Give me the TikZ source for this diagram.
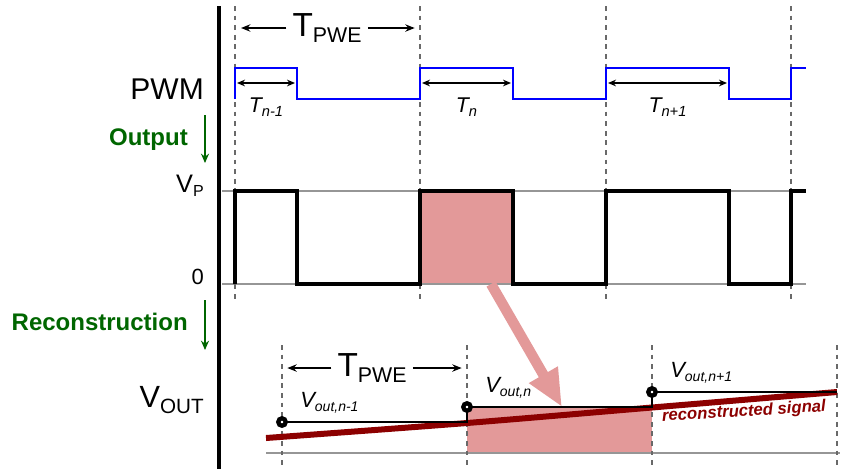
\documentclass[tikz,border=0pt]{standalone}
\usepackage{fontspec}
\setmainfont{Liberation Sans}
\usetikzlibrary{arrows.meta,calc}
\definecolor{guidegray}{RGB}{105,105,105}
\definecolor{levelgray}{RGB}{150,150,150}
\definecolor{blockpink}{RGB}{227,153,153}
\definecolor{recred}{RGB}{140,0,0}
\definecolor{flowgreen}{RGB}{0,102,0}
\newcommand{\lowtext}[3]{\raisebox{-#1}{\fontsize{#2}{#2}\selectfont #3}}
\begin{document}
\begin{tikzpicture}[x=0.75pt, y=-0.75pt,
    guide/.style={draw=guidegray, line width=1.3pt, dash pattern=on 3.6pt off 3.6pt},
    level/.style={draw=levelgray, line width=1pt},
    axisline/.style={line width=3.2pt},
    pwmline/.style={draw=blue, line width=1.9pt},
    outwave/.style={line width=3.4pt, line join=miter},
    recline/.style={draw=recred, line width=4.5pt},
    holdline/.style={line width=1.8pt},
    holdpt/.style={circle, draw, fill=white, line width=3.2pt, inner sep=0pt, minimum size=5.6pt},
    dimarrow/.style={-{Stealth[length=7pt, width=5.5pt]}, line width=1.3pt},
    span/.style={{Stealth[length=6pt, width=5pt]}-{Stealth[length=6pt, width=5pt]}, line width=1.5pt, shorten <=1.5pt, shorten >=1.5pt},
    flow/.style={-{Stealth[length=7pt, width=6pt]}, draw=flowgreen, line width=1.8pt},
    bigarrow/.style={-{Triangle[length=28pt, width=23pt]}, draw=blockpink, line width=7.8pt},
    sidelabel/.style={inner sep=0pt, anchor=base east},
    steplabel/.style={text=flowgreen, font=\bfseries\fontsize{18pt}{18pt}\selectfont, inner sep=0pt, anchor=base east},
    periodlabel/.style={inner sep=4.5pt, font=\fontsize{25pt}{25pt}\selectfont},
    tlabel/.style={below=10pt, inner sep=0pt, font=\itshape\fontsize{16pt}{16pt}\selectfont},
    vlabel/.style={anchor=base west, inner sep=0pt, font=\itshape\fontsize{16.5pt}{16.5pt}\selectfont},
    reclabel/.style={text=recred, rotate=3.5, inner sep=0pt, font=\bfseries\itshape\fontsize{12.5pt}{12.5pt}\selectfont}
]
    \useasboundingbox (0,0) rectangle (848,469);

    \fill[blockpink] (420,191) rectangle (513,284);
    \fill[blockpink] (467,407) rectangle (652,453);

    \draw[level] (222,191) -- (806,191);
    \draw[level] (222,284) -- (806,284);
    \draw[level] (266,453) -- (840,453);

    \coordinate (g1) at (235,6);
    \coordinate (g2) at (420,6);
    \coordinate (g3) at (606,6);
    \coordinate (g4) at (791,6);
    \coordinate (h1) at (282,345);
    \coordinate (h2) at (467,345);
    \coordinate (h3) at (652,345);
    \coordinate (h4) at (837,345);
    \draw[guide] (g1) -- ++(0,294);
    \draw[guide] (g2) -- ++(0,294);
    \draw[guide] (g3) -- ++(0,294);
    \draw[guide] (g4) -- ++(0,294);
    \draw[guide] (h1) -- ++(0,124);
    \draw[guide] (h2) -- ++(0,124);
    \draw[guide] (h3) -- ++(0,124);
    \draw[guide] (h4) -- ++(0,124);

    \coordinate (arrfrom) at (491,284);
    \coordinate (arrto) at (562,407);
    \draw[bigarrow] (arrfrom) -- (arrto);

    \draw[axisline] (219,6) -- (219,469);

    \draw[pwmline] (235,99) -- (235,68) -- (297,68) -- (297,99) -- (420,99) -- (420,68) -- (513,68) -- (513,99)
        -- (606,99) -- (606,68) -- (729,68) -- (729,99) -- (791,99) -- (791,68) -- (806,68);
    \draw[outwave] (235,284) -- (235,191) -- (297,191) -- (297,284) -- (420,284) -- (420,191) -- (513,191) -- (513,284)
        -- (606,284) -- (606,191) -- (729,191) -- (729,284) -- (791,284) -- (791,191) -- (806,191);

    \draw[recline] plot[smooth] coordinates {(266,438) (467,423) (652,407.5) (837,392)};

    \coordinate (s1) at (282,422);
    \coordinate (s2) at (467,407);
    \coordinate (s3) at (652,392);
    \coordinate (send) at (837,392);
    \draw[holdline] (s1) -- (s1 -| s2) -- (s2) -- (s2 -| s3) -- (s3) -- (send);
    \node[holdpt] (m1) at (s1) {};
    \node[holdpt] (m2) at (s2) {};
    \node[holdpt] (m3) at (s3) {};

    \node[sidelabel, font=\fontsize{22.5pt}{22.5pt}\selectfont] (pwm) at (204,99) {PWM};
    \node[steplabel] (outlbl) at (188,145) {Output};
    \node[steplabel] (reclbl) at (188,330) {Reconstruction};
    \node[sidelabel, font=\fontsize{19pt}{19pt}\selectfont] (vp) at (204,192) {V\lowtext{3pt}{12pt}{P}};
    \node[sidelabel, font=\fontsize{16.5pt}{16.5pt}\selectfont] (zero) at (204,284) {0};
    \node[sidelabel, font=\fontsize{23pt}{23pt}\selectfont] (vout) at (204,407) {V\lowtext{5pt}{15.5pt}{OUT}};

    \coordinate (fa1) at (205,115);
    \coordinate (fa2) at (205,163);
    \coordinate (fb1) at (205,300);
    \coordinate (fb2) at (205,350);
    \draw[flow] (fa1) -- (fa2);
    \draw[flow] (fb1) -- (fb2);

    \node[periodlabel] (tpwetop) at (327,28) {T\lowtext{5pt}{16pt}{PWE}};
    \draw[dimarrow, shorten >=4.5pt] (tpwetop.west) -- (tpwetop.west -| g1);
    \draw[dimarrow, shorten >=4pt] (tpwetop.east) -- (tpwetop.east -| g2);
    \node[periodlabel] (tpwebot) at (372,368) {T\lowtext{5pt}{16pt}{PWE}};
    \draw[dimarrow, shorten >=4pt] (tpwebot.west) -- (tpwebot.west -| h1);
    \draw[dimarrow, shorten >=4pt] (tpwebot.east) -- (tpwebot.east -| h2);

    \coordinate (p1a) at (235,83);
    \coordinate (p1b) at (297,83);
    \coordinate (p2a) at (420,83);
    \coordinate (p2b) at (513,83);
    \coordinate (p3a) at (606,83);
    \coordinate (p3b) at (729,83);
    \draw[span] (p1a) -- node[tlabel] (tn1) {T\lowtext{3pt}{11pt}{n-1}} (p1b);
    \draw[span] (p2a) -- node[tlabel] (tn2) {T\lowtext{3pt}{11pt}{n}} (p2b);
    \draw[span] (p3a) -- node[tlabel] (tn3) {T\lowtext{3pt}{11pt}{n+1}} (p3b);

    \node[vlabel] (vl1) at ($(s1)+(18,-15)$) {V\lowtext{3pt}{10.5pt}{out,n-1}};
    \node[vlabel] (vl2) at ($(s2)+(18,-15)$) {V\lowtext{3pt}{10.5pt}{out,n}};
    \node[vlabel] (vl3) at ($(s3)+(18,-15)$) {V\lowtext{3pt}{10.5pt}{out,n+1}};
    \node[reclabel] (recsig) at (744,412) {reconstructed signal};
\end{tikzpicture}
\end{document}
